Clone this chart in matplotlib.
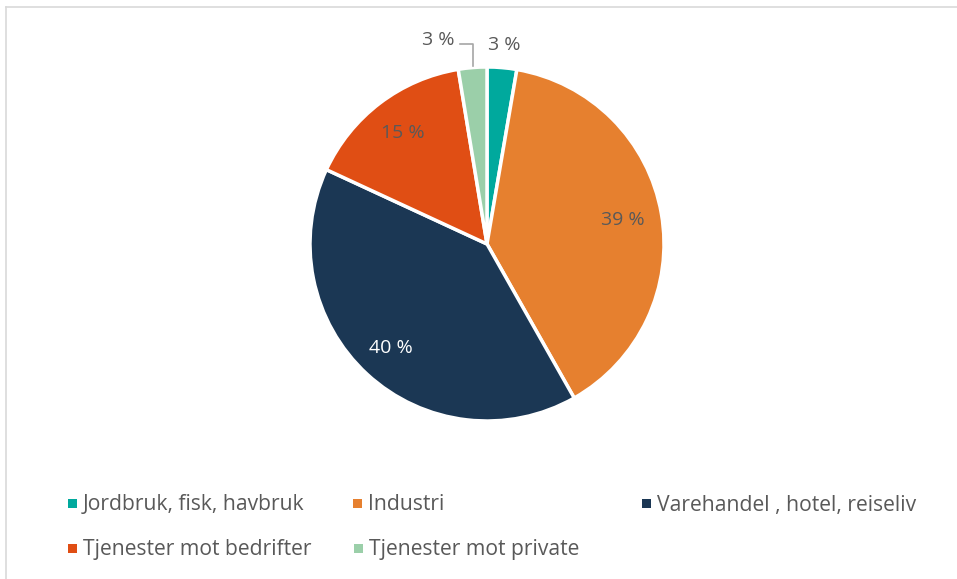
import numpy as np
import matplotlib
matplotlib.use("Agg")
import matplotlib.pyplot as plt
from matplotlib.lines import Line2D
from matplotlib.patches import Rectangle

categories = ["Jordbruk, fisk, havbruk", "Industri", "Varehandel , hotel, reiseliv",
              "Tjenester mot bedrifter", "Tjenester mot private"]
values = [2.7, 39.1, 40.1, 15.5, 2.6]
labels = ["3 %", "39 %", "40 %", "15 %", "3 %"]
colors = ["#00A99D", "#E6802F", "#1B3754", "#E04E14", "#9BCFA9"]
label_colors = ["#595959", "#595959", "#FFFFFF", "#595959", "#595959"]
label_r = [1.13, 0.78, 0.80, 0.79, None]

W, H = 957, 579
fig = plt.figure(figsize=(W / 100, H / 100), dpi=100)
font = "Open Sans"
tc = "#595959"

# border
fig.add_artist(Line2D([6 / W, 6 / W], [0, 1 - 7 / H], color="#D9D9D9", lw=1.2, transform=fig.transFigure))
fig.add_artist(Line2D([6 / W, 1], [1 - 7 / H, 1 - 7 / H], color="#D9D9D9", lw=1.2, transform=fig.transFigure))

cx, cy, R = 487, 244, 177
ax = fig.add_axes([(cx - R) / W, (H - cy - R) / H, 2 * R / W, 2 * R / H])
wedges, _ = ax.pie(values, colors=colors, startangle=90, counterclock=False, radius=1,
                   wedgeprops=dict(edgecolor="white", linewidth=2.5))
ax.set_xlim(-1, 1)
ax.set_ylim(-1, 1)
ax.set_aspect("equal")
ax.axis("off")

for w, lab, lc, r in zip(wedges, labels, label_colors, label_r):
    mid = np.deg2rad((w.theta1 + w.theta2) / 2)
    if r is not None:
        ax.text(r * np.cos(mid), r * np.sin(mid), lab, ha="center", va="center",
                color=lc, fontsize=14, family=font)
    else:
        # leader-line label
        x0 = np.cos(mid) * 1.0
        y0 = np.sin(mid) * 1.0
        ytop = 1.13
        xl = x0 - 0.07
        ax.plot([x0, x0, xl], [y0 + 0.01, ytop, ytop], color="#A6A6A6", lw=1.2, clip_on=False)
        ax.text(xl - 0.03, ytop + 0.02, lab, ha="right", va="center", color=lc, fontsize=14, family=font)

# legend
leg_pos = [(72, 503), (357, 503), (646, 503), (72, 548), (358, 548)]
for (mx, my), cat, col in zip(leg_pos, categories, colors):
    s = 9
    fig.add_artist(Rectangle(((mx - s / 2) / W, (H - my - s / 2) / H), s / W, s / H,
                             facecolor=col, edgecolor="none", transform=fig.transFigure))
    fig.text((mx + 11) / W, (H - my - 2) / H, cat, ha="left", va="center", color=tc,
             fontsize=15.2, family=font)

fig.savefig("out.png", dpi=100, facecolor="white")
